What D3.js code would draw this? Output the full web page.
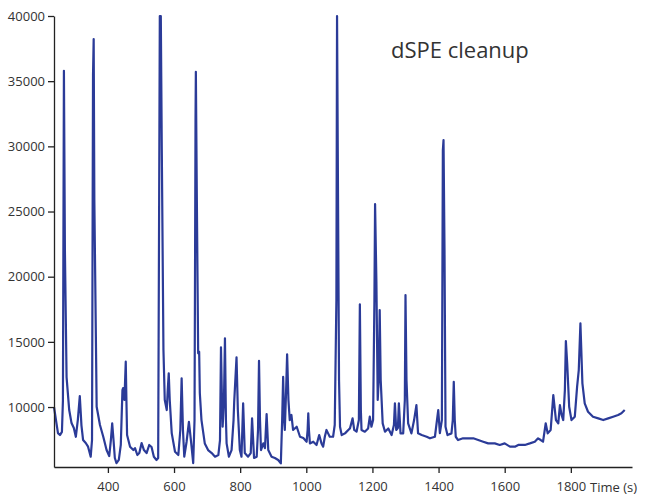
<!DOCTYPE html>
<html lang="en">
	<head>
		<meta charset="utf-8">
		<title>dSPE cleanup chromatogram</title>
		<script type="text/javascript" src="https://cdn.jsdelivr.net/npm/d3@7"></script>
		<style type="text/css">
			body { margin: 0; background: #fff; }
			svg text { font-family: "Open Sans", sans-serif; fill: #333; }
		</style>
	</head>
	<body>
		<script type="text/javascript">
			//Retention time (s)
			var times = [237, 243, 249, 255, 261, 264, 267, 270, 275, 283, 290, 297, 303, 309, 315, 320, 325, 333, 340, 348,
				352, 355, 357, 359, 366, 376, 386, 396, 404, 409, 413, 417, 421, 426, 433, 439, 444, 446, 450, 454,
				456, 458, 467, 477, 482, 489, 495, 502, 509, 517, 525, 532, 539, 547, 552, 555, 557, 560, 563, 568,
				572, 578, 581, 584, 587, 593, 603, 613, 619, 623, 627, 631, 638, 645, 651, 658, 662, 665, 666, 669,
				673, 676, 678, 683, 693, 703, 714, 724, 734, 739, 742, 745, 747, 751, 754, 757, 759, 766, 774, 780,
				782, 789, 793, 799, 804, 809, 814, 824, 832, 836, 842, 850, 854, 857, 860, 863, 870, 875, 880, 885,
				895, 905, 915, 923, 927, 930, 933, 935, 939, 942, 946, 950, 955, 960, 971, 981, 991, 1001, 1004, 1006,
				1008, 1011, 1021, 1031, 1039, 1046, 1051, 1056, 1061, 1066, 1071, 1081, 1086, 1091, 1093, 1096, 1099, 1102, 1107, 1117,
				1127, 1132, 1140, 1145, 1152, 1159, 1162, 1165, 1167, 1177, 1187, 1192, 1197, 1202, 1206, 1208, 1212, 1216, 1219, 1222,
				1225, 1231, 1238, 1248, 1258, 1265, 1268, 1272, 1277, 1280, 1285, 1293, 1298, 1300, 1303, 1308, 1318, 1326, 1333, 1338,
				1349, 1364, 1374, 1389, 1399, 1404, 1410, 1413, 1415, 1418, 1421, 1427, 1439, 1443, 1446, 1449, 1452, 1459, 1474, 1490,
				1505, 1520, 1535, 1550, 1570, 1585, 1600, 1616, 1631, 1641, 1661, 1676, 1691, 1701, 1709, 1716, 1724, 1730, 1739, 1747,
				1755, 1762, 1767, 1772, 1777, 1782, 1785, 1789, 1795, 1802, 1812, 1819, 1824, 1829, 1835, 1842, 1852, 1867, 1883, 1898,
				1913, 1928, 1943, 1953, 1963];

			//Signal intensity at each time
			var intensity = [10000, 9000, 8000, 7850, 8100, 10500, 35800, 22000, 12300, 9770, 8770, 8390, 7720, 9000, 10840, 8600, 7470, 7240, 6960, 6190,
				7470, 35460, 38230, 25900, 10020, 8620, 7720, 6700, 6240, 7470, 8750, 7470, 6090, 5700, 5940, 7090, 11300, 11460, 10540, 13480,
				10540, 7850, 6960, 6700, 6850, 6320, 6470, 7240, 6700, 6470, 7090, 6930, 6190, 5940, 6090, 25900, 40000, 40000, 29700, 14370,
				10540, 9770, 11300, 12580, 10540, 8000, 6570, 6320, 8240, 12200, 8240, 6190, 7340, 8870, 7470, 5700, 9000, 32000, 35720, 25900,
				14120, 14240, 11070, 9000, 7210, 6700, 6470, 6190, 6320, 7470, 14580, 10540, 8490, 10540, 15270, 9000, 7210, 6190, 6700, 9000,
				10400, 13810, 9770, 6700, 6190, 10280, 6470, 6190, 6470, 9130, 6090, 6190, 8240, 13550, 9000, 6700, 7210, 6850, 9460, 6700,
				6190, 6090, 5940, 5680, 9000, 12320, 9000, 8240, 11300, 14040, 10540, 9000, 9390, 8240, 8490, 7720, 7620, 7340, 8240, 9520,
				8240, 7210, 7340, 7090, 7850, 7210, 6960, 7720, 8240, 7980, 7720, 7720, 8620, 18200, 40000, 25900, 12070, 8490, 7850, 7980,
				8240, 8360, 9130, 8240, 8110, 9000, 17880, 9770, 8240, 8110, 8360, 9260, 8490, 9000, 18200, 25570, 19610, 10540, 12070, 17440,
				12070, 8750, 8110, 8360, 7850, 8620, 10280, 8240, 8390, 10280, 7980, 7980, 10540, 18590, 12070, 8750, 7980, 9000, 10150, 7980,
				7850, 7720, 7600, 7720, 9770, 8000, 9000, 29700, 30480, 22000, 8490, 7850, 7980, 9000, 11940, 9000, 7720, 7470, 7600, 7600,
				7600, 7470, 7340, 7210, 7210, 7090, 7210, 6960, 6960, 7090, 7090, 7210, 7340, 7600, 7470, 7340, 8750, 7980, 8240, 10920,
				9000, 8750, 10150, 9390, 9000, 11300, 15060, 13350, 10020, 9000, 9260, 11560, 12840, 16420, 11820, 10280, 9640, 9260, 9130, 9000,
				9130, 9260, 9390, 9520, 9770];

			var xTicks = [400, 600, 800, 1000, 1200, 1400, 1600, 1800];
			var yTicks = [10000, 15000, 20000, 25000, 30000, 35000, 40000];

			//Width and height
			var w = 645;
			var h = 495;

			var data = times.map(function(t, i) { return [t, intensity[i]]; });

			var xScale = d3.scaleLinear()
				.domain([237, 1985])
				.range([54, 632]);

			var yScale = d3.scaleLinear()
				.domain([5400, 40000])
				.range([467, 16]);

			//Create SVG element
			var svg = d3.select("body")
				.append("svg")
				.attr("width", w)
				.attr("height", h);

			var line = d3.line()
				.x(function(d) { return xScale(d[0]); })
				.y(function(d) { return yScale(d[1]); });

			svg.append("path")
				.datum(data)
				.attr("d", line)
				.style("fill", "none")
				.style("stroke", "#2b3b98")
				.style("stroke-width", 2.2)
				.style("stroke-linejoin", "round");

			//Axes
			svg.append("g")
				.attr("transform", "translate(0,467)")
				.call(d3.axisBottom(xScale).tickValues(xTicks).tickFormat(d3.format("d"))
					.tickSize(6).tickSizeOuter(0).tickPadding(9));

			svg.append("g")
				.attr("transform", "translate(54,0)")
				.call(d3.axisLeft(yScale).tickValues(yTicks).tickFormat(d3.format("d"))
					.tickSize(6).tickSizeOuter(0).tickPadding(3));

			svg.selectAll(".domain, .tick line")
				.style("stroke", "#222")
				.style("stroke-width", 1.3);

			svg.selectAll(".tick text")
				.style("font-family", "'Open Sans', sans-serif")
				.style("font-size", "13px")
				.style("fill", "#333");

			svg.append("text")
				.attr("x", 590)
				.attr("y", 492)
				.style("font-size", "13px")
				.text("Time (s)");

			svg.append("text")
				.attr("x", 391)
				.attr("y", 58)
				.style("font-size", "22px")
				.text("dSPE cleanup");

		</script>
	</body>
</html>
